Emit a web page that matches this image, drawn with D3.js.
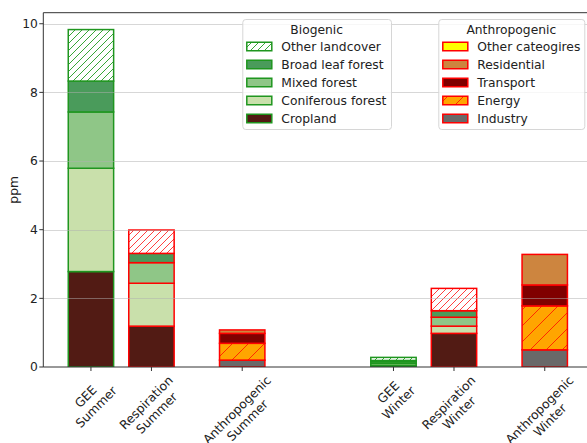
<!DOCTYPE html>
<html>
<head>
<meta charset="utf-8">
<script src="https://cdn.jsdelivr.net/npm/d3@7"></script>
<style>
  html, body { margin: 0; padding: 0; background: #fff; }
  svg { display: block; font-family: "DejaVu Sans", sans-serif; }
</style>
</head>
<body>
<svg id="chart" width="587" height="443"></svg>
<script>
// Bar groups and their x positions
const categories = ["GEE\nSummer", "Respiration\nSummer", "Anthropogenic\nSummer",
                    "GEE\nWinter", "Respiration\nWinter", "Anthropogenic\nWinter"];
const positions = [0, 1, 2.5, 5, 6, 7.5];

// Biogenic layers, stacked bottom to top
const bioLayers = ["Cropland", "Coniferous forest", "Mixed forest", "Broad leaf forest", "Other landcover"];
const geeSummer  = [2.78, 3.01, 1.64, 0.90, 1.50];
const respSummer = [1.19, 1.25, 0.60, 0.27, 0.68];
const geeWinter  = [0.04, 0.06, 0.05, 0.04, 0.09];
const respWinter = [0.98, 0.21, 0.26, 0.19, 0.65];

// Anthropogenic layers, stacked bottom to top
const anthLayers = ["Industry", "Energy", "Transport", "Residential", "Other cateogires"];
const anthSummer = [0.20, 0.49, 0.29, 0.10, 0.00];
const anthWinter = [0.50, 1.28, 0.61, 0.89, 0.00];

const yTicks = [0, 2, 4, 6, 8, 10];

// Styles
const bioFill  = {"Cropland": "#521b14", "Coniferous forest": "#c9e0ab", "Mixed forest": "#8fc687",
                  "Broad leaf forest": "#4a9b5b", "Other landcover": "none"};
const anthFill = {"Industry": "#696969", "Energy": "#ffa500", "Transport": "#800000",
                  "Residential": "#cd853f", "Other cateogires": "#ffff00"};
const hatchFine = {"Other landcover": true};
const hatchCoarse = {"Energy": true};

const svg = d3.select("#chart");
const W = 587, H = 443;
const fs = 12.3;

const pL = 43.3, pR = 592.4, pT = 12.7, pB = 367;
const x = d3.scaleLinear().domain([-0.7875, 8.2875]).range([pL, pR]);
const y = d3.scaleLinear().domain([0, 10.3215]).range([pB, pT]);
const barW = x(0.75) - x(0);

// Hatch patterns
const defs = svg.append("defs");
function hatch(id, color, s) {
  const p = defs.append("pattern").attr("id", id).attr("patternUnits", "userSpaceOnUse")
    .attr("width", s).attr("height", s);
  p.append("path")
    .attr("d", `M${-s/2},${s/2} L${s/2},${-s/2} M0,${s} L${s},0 M${s/2},${s*1.5} L${s*1.5},${s/2}`)
    .attr("stroke", color).attr("stroke-width", 1).attr("fill", "none");
}
hatch("hFineGreen", "#38a638", 7);
hatch("hFineRed", "#ff4040", 7);
hatch("hCoarseRed", "#ff2a00", 16);

svg.append("rect").attr("width", W).attr("height", H).attr("fill", "#fff");

const clip = defs.append("clipPath").attr("id", "plotClip");
clip.append("rect").attr("x", pL).attr("y", pT).attr("width", pR - pL).attr("height", pB - pT);

const plot = svg.append("g").attr("clip-path", "url(#plotClip)");

// Assemble stacks
const stacks = [
  {pos: positions[0], vals: geeSummer,  layers: bioLayers,  fills: bioFill,  edge: "#1f961f", red: false},
  {pos: positions[1], vals: respSummer, layers: bioLayers,  fills: bioFill,  edge: "#ff0000", red: true},
  {pos: positions[2], vals: anthSummer, layers: anthLayers, fills: anthFill, edge: "#ff0000", red: true},
  {pos: positions[3], vals: geeWinter,  layers: bioLayers,  fills: bioFill,  edge: "#1f961f", red: false},
  {pos: positions[4], vals: respWinter, layers: bioLayers,  fills: bioFill,  edge: "#ff0000", red: true},
  {pos: positions[5], vals: anthWinter, layers: anthLayers, fills: anthFill, edge: "#ff0000", red: true}
];

stacks.forEach(st => {
  let base = 0;
  st.vals.forEach((v, i) => {
    const name = st.layers[i];
    const x0 = x(st.pos - 0.375);
    const y0 = y(base + v), h = y(base) - y(base + v);
    const fill = st.fills[name];
    const g = plot.append("g");
    g.append("rect").attr("x", x0).attr("y", y0).attr("width", barW).attr("height", h)
      .attr("fill", fill === "none" ? "#ffffff" : fill);
    if (hatchFine[name]) {
      g.append("rect").attr("x", x0).attr("y", y0).attr("width", barW).attr("height", h)
        .attr("fill", st.red ? "url(#hFineRed)" : "url(#hFineGreen)");
    }
    if (hatchCoarse[name]) {
      g.append("rect").attr("x", x0).attr("y", y0).attr("width", barW).attr("height", h)
        .attr("fill", "url(#hCoarseRed)");
    }
    g.append("rect").attr("x", x0).attr("y", y0).attr("width", barW).attr("height", h)
      .attr("fill", "none").attr("stroke", st.edge).attr("stroke-width", 1.5);
    base += v;
  });
});

// Grid drawn over the bars
plot.selectAll("line.grid").data(yTicks).join("line").attr("class", "grid")
  .attr("x1", pL).attr("x2", pR)
  .attr("y1", d => Math.round(y(d)) + 0.5).attr("y2", d => Math.round(y(d)) + 0.5)
  .attr("stroke", "#b0b0b0").attr("stroke-opacity", 0.5).attr("stroke-width", 1);

// Spines
const spineColor = "#333";
svg.append("line").attr("x1", pL).attr("x2", pL).attr("y1", pT).attr("y2", pB)
  .attr("stroke", spineColor).attr("stroke-width", 1);
svg.append("line").attr("x1", pL).attr("x2", W).attr("y1", pB).attr("y2", pB)
  .attr("stroke", spineColor).attr("stroke-width", 1);
svg.append("line").attr("x1", pL).attr("x2", W).attr("y1", pT).attr("y2", pT)
  .attr("stroke", spineColor).attr("stroke-width", 1);

// Y axis
const yAxis = svg.append("g");
yTicks.forEach(t => {
  const yy = y(t);
  yAxis.append("line").attr("x1", pL - 4).attr("x2", pL).attr("y1", yy).attr("y2", yy)
    .attr("stroke", spineColor).attr("stroke-width", 1);
  yAxis.append("text").attr("x", pL - 5.5).attr("y", yy).attr("dy", "0.35em")
    .attr("text-anchor", "end").attr("font-size", fs).attr("fill", "#222").text(t);
});
svg.append("text").attr("transform", `translate(14,${(pT + pB) / 2}) rotate(-90)`)
  .attr("text-anchor", "middle").attr("dy", "0.35em").attr("font-size", fs).attr("fill", "#222")
  .text("ppm");

// X axis ticks and rotated two-line labels
const lineGap = fs * 1.2, blockH = lineGap + fs * 1.17;
categories.forEach((c, i) => {
  const cx = x(positions[i]);
  svg.append("line").attr("x1", cx).attr("x2", cx).attr("y1", pB).attr("y2", pB + 4)
    .attr("stroke", spineColor).attr("stroke-width", 1);
  const lines = c.split("\n");
  const g = svg.append("g");
  const texts = lines.map((ln, k) => g.append("text").attr("text-anchor", "middle")
    .attr("font-size", fs).attr("fill", "#222")
    .attr("y", -blockH / 2 + fs * 0.93 + k * lineGap).text(ln));
  const w = d3.max(texts, t => t.node().getComputedTextLength());
  const side = (w + blockH) / Math.SQRT2;
  const cy = pB + 6 + side / 2;
  g.attr("transform", `translate(${cx},${cy}) rotate(-45)`);
});

// Legends
function legend(x0, x1, title, names, style) {
  const g = svg.append("g");
  g.append("rect").attr("x", x0 + 0.5).attr("y", 19.5).attr("width", x1 - x0).attr("height", 110)
    .attr("rx", 3).attr("fill", "#fff").attr("fill-opacity", 0.8)
    .attr("stroke", "#d6d6d6").attr("stroke-width", 1);
  g.append("text").attr("x", (x0 + x1) / 2).attr("y", 29.5).attr("dy", "0.35em")
    .attr("text-anchor", "middle").attr("font-size", fs).attr("fill", "#222").text(title);
  names.forEach((n, k) => {
    const cy = 46.5 + k * 18;
    const s = style(n);
    const px = x0 + 4.5, pw = 25, ph = 8.5;
    g.append("rect").attr("x", px).attr("y", cy - ph / 2).attr("width", pw).attr("height", ph)
      .attr("fill", s.fill);
    if (s.hatch) {
      g.append("rect").attr("x", px).attr("y", cy - ph / 2).attr("width", pw).attr("height", ph)
        .attr("fill", s.hatch);
    }
    g.append("rect").attr("x", px).attr("y", cy - ph / 2).attr("width", pw).attr("height", ph)
      .attr("fill", "none").attr("stroke", s.edge).attr("stroke-width", 1.5);
    g.append("text").attr("x", px + pw + 9.5).attr("y", cy).attr("dy", "0.35em")
      .attr("font-size", fs).attr("fill", "#222").text(n);
  });
}
legend(242.3, 391, "Biogenic", bioLayers.slice().reverse(), n => ({
  fill: bioFill[n] === "none" ? "#fff" : bioFill[n],
  hatch: hatchFine[n] ? "url(#hFineGreen)" : null,
  edge: "#1f961f"
}));
legend(438.3, 584.3, "Anthropogenic", anthLayers.slice().reverse(), n => ({
  fill: anthFill[n],
  hatch: hatchCoarse[n] ? "url(#hCoarseRed)" : null,
  edge: "#ff0000"
}));
</script>
</body>
</html>
